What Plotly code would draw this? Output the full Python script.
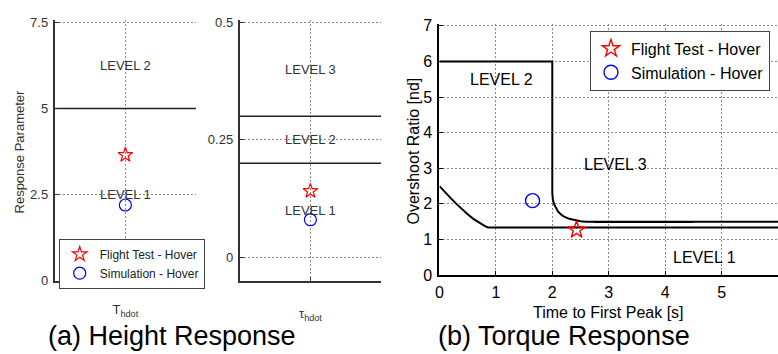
import plotly.graph_objects as go

W, H = 778, 354
FONT = "Arial, 'Liberation Sans', sans-serif"

# ---- data ----
# Panel (a1): T_hdot
t_level_bounds = [5.0]
t_flight = [3.65]
t_sim = [2.2]
t_levels = [("LEVEL 2", 6.25), ("LEVEL 1", 2.5)]

# Panel (a2): tau_hdot
tau_level_bounds = [0.3, 0.2]
tau_flight = [0.141]
tau_sim = [0.08]
tau_levels = [("LEVEL 3", 0.40), ("LEVEL 2", 0.25), ("LEVEL 1", 0.10)]

# Panel (b): torque response boundaries
lvl1_x = [0, 0.05, 0.1, 0.2, 0.3, 0.4, 0.5, 0.6, 0.7, 0.8, 0.86, 6]
lvl1_y = [2.5, 2.41, 2.33, 2.16, 2.0, 1.85, 1.71, 1.58, 1.47, 1.38, 1.34, 1.34]
lvl2_x = [0, 2.0, 2.0, 2.01, 2.03, 2.06, 2.1, 2.15, 2.2, 2.3, 2.4, 2.5, 2.6, 6]
lvl2_y = [6, 6, 2.3, 2.12, 2.0, 1.89, 1.79, 1.71, 1.65, 1.58, 1.54, 1.51, 1.5, 1.5]
lvl2b_x = [2.74, 4.5]
lvl2b_y = [1.49, 1.49]
torque_flight_x, torque_flight_y = [2.43], [1.27]
torque_sim_x, torque_sim_y = [1.65], [2.09]
torque_levels = [("LEVEL 2", 1.10, 5.5), ("LEVEL 3", 3.12, 3.1), ("LEVEL 1", 4.70, 0.48)]

fig = go.Figure()

def px_x(p):
    return p / W

def px_y(p):
    return 1 - p / H

# Panel 1
for yb in t_level_bounds:
    fig.add_trace(go.Scatter(x=[0, 2], y=[yb, yb], mode="lines", line=dict(color="#222", width=1.5),
                             xaxis="x", yaxis="y", showlegend=False, hoverinfo="skip"))
fig.add_trace(go.Scatter(x=[1], y=t_flight, mode="markers", name="Flight Test - Hover",
                         marker=dict(symbol="star-open", size=11, color="red", line=dict(width=1.2, color="red")),
                         xaxis="x", yaxis="y", legend="legend"))
fig.add_trace(go.Scatter(x=[1], y=t_sim, mode="markers", name="Simulation - Hover",
                         marker=dict(symbol="circle-open", size=12, color="blue", line=dict(width=1.2, color="blue")),
                         xaxis="x", yaxis="y", legend="legend"))

# Panel 2
for yb in tau_level_bounds:
    fig.add_trace(go.Scatter(x=[0, 2], y=[yb, yb], mode="lines", line=dict(color="#222", width=1.5),
                             xaxis="x2", yaxis="y2", showlegend=False, hoverinfo="skip"))
fig.add_trace(go.Scatter(x=[1], y=tau_flight, mode="markers", showlegend=False,
                         marker=dict(symbol="star-open", size=11, color="red", line=dict(width=1.2, color="red")),
                         xaxis="x2", yaxis="y2"))
fig.add_trace(go.Scatter(x=[1], y=tau_sim, mode="markers", showlegend=False,
                         marker=dict(symbol="circle-open", size=12, color="blue", line=dict(width=1.2, color="blue")),
                         xaxis="x2", yaxis="y2"))

# Panel 3
fig.add_trace(go.Scatter(x=lvl1_x, y=lvl1_y, mode="lines", line=dict(color="black", width=2),
                         xaxis="x3", yaxis="y3", showlegend=False, hoverinfo="skip"))
fig.add_trace(go.Scatter(x=lvl2_x, y=lvl2_y, mode="lines", line=dict(color="black", width=2),
                         xaxis="x3", yaxis="y3", showlegend=False, hoverinfo="skip"))
fig.add_trace(go.Scatter(x=lvl2b_x, y=lvl2b_y, mode="lines", line=dict(color="black", width=2),
                         xaxis="x3", yaxis="y3", showlegend=False, hoverinfo="skip"))
fig.add_trace(go.Scatter(x=torque_flight_x, y=torque_flight_y, mode="markers", name="Flight Test - Hover",
                         marker=dict(symbol="star-open", size=13, color="red", line=dict(width=1.4, color="red")),
                         xaxis="x3", yaxis="y3", legend="legend2"))
fig.add_trace(go.Scatter(x=torque_sim_x, y=torque_sim_y, mode="markers", name="Simulation - Hover",
                         marker=dict(symbol="circle-open", size=14, color="blue", line=dict(width=1.4, color="blue")),
                         xaxis="x3", yaxis="y3", legend="legend2"))

grid = dict(showgrid=True, gridcolor="#888", griddash="2px,2px", gridwidth=1, zeroline=False,
            showline=True, ticks="inside", ticklen=4, fixedrange=True)
small = dict(linecolor="#333", linewidth=2, tickcolor="#333", tickfont=dict(size=13, color="#333", family=FONT))
big = dict(linecolor="black", linewidth=2, tickcolor="black", tickfont=dict(size=16, color="black", family=FONT))

# plot areas extend 2px above the top tick so its dotted grid line is drawn
top12, bot12 = px_y(15), px_y(287)
fig.update_layout(
    width=W, height=H, margin=dict(l=0, r=0, t=0, b=0),
    paper_bgcolor="white", plot_bgcolor="white",
    font=dict(family=FONT),
    xaxis=dict(domain=[px_x(51), px_x(193)], range=[0, 2], tickvals=[1], ticktext=["T<sub>hdot</sub>"],
               anchor="y", ticklabelstandoff=16, **grid, **small),
    yaxis=dict(domain=[bot12, top12], range=[0, 7.5 + 2 / 36], tickvals=[0, 2.5, 5, 7.5],
               ticktext=["0", "2.5", "5", "7.5"], anchor="x", ticklabelstandoff=2, **grid, **small),
    xaxis2=dict(domain=[px_x(237), px_x(379)], range=[0, 2], tickvals=[1], ticktext=["τ<sub>hdot</sub>"],
                anchor="y2", ticklabelstandoff=20, **grid, **small),
    yaxis2=dict(domain=[bot12, top12], range=[-0.05, 0.5 + 2 / 490], tickvals=[0, 0.25, 0.5],
                ticktext=["0", "0.25", "0.5"], anchor="x2", ticklabelstandoff=2, **grid, **small),
    xaxis3=dict(domain=[px_x(437.7), 1.0], range=[0, 6.0], tickvals=[0, 1, 2, 3, 4, 5, 6],
                anchor="y3", ticklabelstandoff=2, **grid, **big),
    yaxis3=dict(domain=[px_y(281), px_y(18.7)], range=[0, 7 + 2 / 37.2], tickvals=[0, 1, 2, 3, 4, 5, 6, 7],
                anchor="x3", ticklabelstandoff=2, **grid, **big),
    legend=dict(x=px_x(55), y=px_y(243), xanchor="left", yanchor="top", bgcolor="white",
                bordercolor="#444", borderwidth=1, font=dict(size=12, color="#222", family=FONT),
                tracegroupgap=0, itemwidth=30),
    legend2=dict(x=px_x(589), y=px_y(25.7), xanchor="left", yanchor="top", bgcolor="white",
                 bordercolor="#444", borderwidth=1, font=dict(size=16, color="black", family=FONT),
                 tracegroupgap=0),
)

ann = []
for txt, yv in t_levels:
    ann.append(dict(text=txt, x=1, y=yv, xref="x", yref="y", showarrow=False,
                    font=dict(size=13, color="#333", family=FONT)))
for txt, yv in tau_levels:
    ann.append(dict(text=txt, x=1, y=yv, xref="x2", yref="y2", showarrow=False,
                    font=dict(size=13, color="#333", family=FONT)))
for txt, xv, yv in torque_levels:
    ann.append(dict(text=txt, x=xv, y=yv, xref="x3", yref="y3", showarrow=False,
                    font=dict(size=16, color="black", family=FONT)))

def paper_ann(text, x, y, size, color, angle=0):
    return dict(text=text, x=px_x(x), y=px_y(y), xref="paper", yref="paper", xanchor="center",
                yanchor="middle", textangle=angle, showarrow=False,
                font=dict(size=size, color=color, family=FONT))

ann.append(paper_ann("Response Parameter", 16, 152, 13, "#333", -90))
ann.append(paper_ann("Overshoot Ratio [nd]", 412, 151, 16, "black", -90))
ann.append(paper_ann("Time to First Peak [s]", 608, 320, 16, "black"))
ann.append(paper_ann("(a) Height Response", 168.5, 345, 27, "black"))
ann.append(paper_ann("(b) Torque Response", 562.5, 345, 27, "black"))
fig.update_layout(annotations=ann)

fig.write_html("out.html")
